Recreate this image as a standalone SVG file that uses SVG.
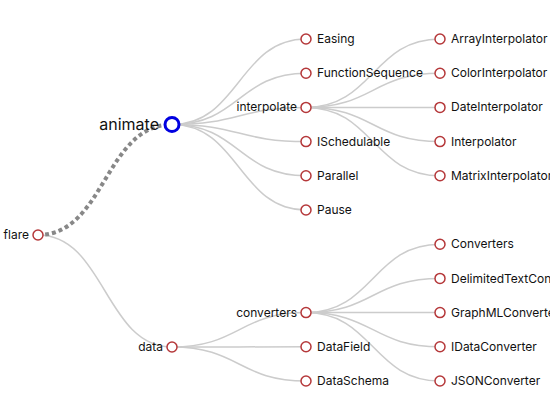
<svg xmlns="http://www.w3.org/2000/svg" width="550" height="420" viewBox="0 0 550 420">
<style>
.link{fill:none;stroke:#ccc;stroke-width:1.5}
.hl{fill:none;stroke:#888;stroke-width:4;stroke-dasharray:4 3}
.node circle{fill:#fff;stroke:#b5383a;stroke-width:1.5}
text{font-family:Inter,"Noto Sans",sans-serif;font-size:12px;fill:#111}
.l{text-anchor:end}
</style>
<rect width="550" height="420" fill="#fff"/>
<g id="links">
<path class="link" d="M38,235 C105,235 105,347 172,347"/>
<path class="link" d="M172,124.5 C239,124.5 239,39 306,39"/>
<path class="link" d="M172,124.5 C239,124.5 239,73.2 306,73.2"/>
<path class="link" d="M172,124.5 C239,124.5 239,107.4 306,107.4"/>
<path class="link" d="M172,124.5 C239,124.5 239,141.6 306,141.6"/>
<path class="link" d="M172,124.5 C239,124.5 239,175.8 306,175.8"/>
<path class="link" d="M172,124.5 C239,124.5 239,210 306,210"/>
<path class="link" d="M172,347 C239,347 239,312.6 306,312.6"/>
<path class="link" d="M172,347 C239,347 239,346.8 306,346.8"/>
<path class="link" d="M172,347 C239,347 239,381 306,381"/>
<path class="link" d="M306,107.4 C373,107.4 373,39 440,39"/>
<path class="link" d="M306,107.4 C373,107.4 373,73.2 440,73.2"/>
<path class="link" d="M306,107.4 C373,107.4 373,107.4 440,107.4"/>
<path class="link" d="M306,107.4 C373,107.4 373,141.6 440,141.6"/>
<path class="link" d="M306,107.4 C373,107.4 373,175.8 440,175.8"/>
<path class="link" d="M306,312.6 C373,312.6 373,244.2 440,244.2"/>
<path class="link" d="M306,312.6 C373,312.6 373,278.4 440,278.4"/>
<path class="link" d="M306,312.6 C373,312.6 373,312.6 440,312.6"/>
<path class="link" d="M306,312.6 C373,312.6 373,346.8 440,346.8"/>
<path class="link" d="M306,312.6 C373,312.6 373,381 440,381"/>
<path class="hl" d="M38,235 C105,235 105,124.5 172,124.5"/>
</g>
<g id="flare" class="node"><circle cx="38" cy="235" r="5"/><text class="l" x="29" y="239">flare</text></g>
<g id="animate" class="node"><circle cx="172" cy="124.5" r="7" style="stroke:#0000e0;stroke-width:3"/><text class="l" x="159" y="130" style="font-size:16px">animate</text></g>
<g id="data" class="node"><circle cx="172" cy="347" r="5"/><text class="l" x="163" y="351">data</text></g>
<g id="Easing" class="node"><circle cx="306" cy="39" r="5"/><text x="317" y="43">Easing</text></g>
<g id="FunctionSequence" class="node"><circle cx="306" cy="73.2" r="5"/><text x="317" y="77">FunctionSequence</text></g>
<g id="interpolate" class="node"><circle cx="306" cy="107.4" r="5"/><text class="l" x="297" y="111">interpolate</text></g>
<g id="ISchedulable" class="node"><circle cx="306" cy="141.6" r="5"/><text x="317" y="146">ISchedulable</text></g>
<g id="Parallel" class="node"><circle cx="306" cy="175.8" r="5"/><text x="317" y="180">Parallel</text></g>
<g id="Pause" class="node"><circle cx="306" cy="210" r="5"/><text x="317" y="214">Pause</text></g>
<g id="converters" class="node"><circle cx="306" cy="312.6" r="5"/><text class="l" x="297" y="317">converters</text></g>
<g id="DataField" class="node"><circle cx="306" cy="346.8" r="5"/><text x="317" y="351">DataField</text></g>
<g id="DataSchema" class="node"><circle cx="306" cy="381" r="5"/><text x="317" y="385">DataSchema</text></g>
<g id="ArrayInterpolator" class="node"><circle cx="440" cy="39" r="5"/><text x="451" y="43">ArrayInterpolator</text></g>
<g id="ColorInterpolator" class="node"><circle cx="440" cy="73.2" r="5"/><text x="451" y="77">ColorInterpolator</text></g>
<g id="DateInterpolator" class="node"><circle cx="440" cy="107.4" r="5"/><text x="451" y="111">DateInterpolator</text></g>
<g id="Interpolator" class="node"><circle cx="440" cy="141.6" r="5"/><text x="451" y="146">Interpolator</text></g>
<g id="MatrixInterpolator" class="node"><circle cx="440" cy="175.8" r="5"/><text x="451" y="180">MatrixInterpolator</text></g>
<g id="Converters" class="node"><circle cx="440" cy="244.2" r="5"/><text x="451" y="248">Converters</text></g>
<g id="DelimitedTextConverter" class="node"><circle cx="440" cy="278.4" r="5"/><text x="451" y="283">DelimitedTextConverter</text></g>
<g id="GraphMLConverter" class="node"><circle cx="440" cy="312.6" r="5"/><text x="451" y="317">GraphMLConverter</text></g>
<g id="IDataConverter" class="node"><circle cx="440" cy="346.8" r="5"/><text x="451" y="351">IDataConverter</text></g>
<g id="JSONConverter" class="node"><circle cx="440" cy="381" r="5"/><text x="451" y="385">JSONConverter</text></g>
</svg>
